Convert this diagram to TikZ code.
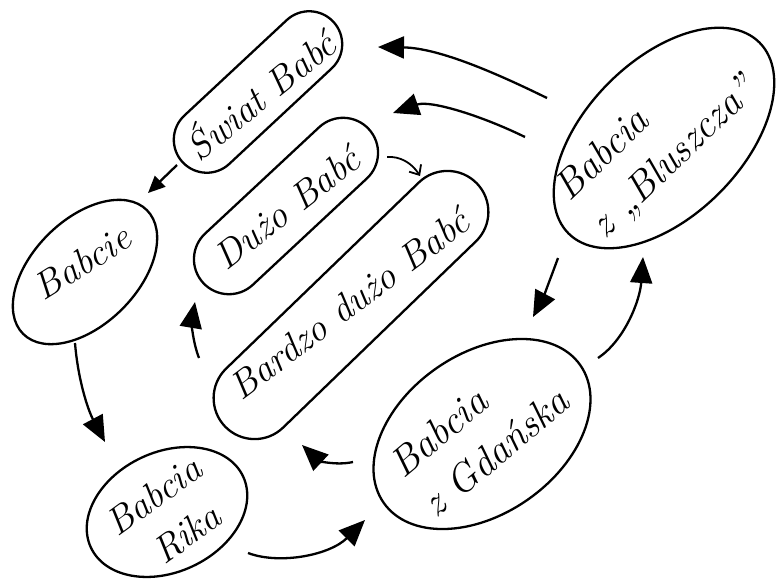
\documentclass[tikz,border=0pt]{standalone}
\usepackage{fontspec}
\usetikzlibrary{shapes.geometric,arrows.meta}
\begin{document}
\begin{tikzpicture}[x=1pt,y=-1pt,
  outline/.style={draw,line width=2.3pt,inner sep=0pt},
  stadium/.style={outline,rectangle,rounded corners=#1},
  oval/.style={outline,ellipse},
  hand/.style={font=\fontsize{38}{50}\selectfont\itshape,inner sep=0pt,align=left},
  bighand/.style={hand,font=\fontsize{40}{52}\selectfont\itshape},
  flow/.style={line width=2.3pt,-{Triangle[length=26pt,width=22pt]}},
  smallflow/.style={line width=2.3pt,-{Triangle[length=17pt,width=15pt]}},
  barbflow/.style={line width=1.8pt,-{Straight Barb[length=8pt,width=14pt]}}
]
\useasboundingbox (0,0) rectangle (777,579);

% outlines
\node[stadium=33pt,minimum width=206pt,minimum height=66pt,rotate=43] (swiat) at (258,92) {};
\node[stadium=35pt,minimum width=226pt,minimum height=70pt,rotate=43] (duzo) at (286,206) {};
\node[stadium=41pt,minimum width=350pt,minimum height=82pt,rotate=44] (bardzo) at (351,305) {};
\node[oval,minimum width=175pt,minimum height=105pt,rotate=45] (babcie) at (85,272) {};
\node[oval,minimum width=168pt,minimum height=120pt,rotate=25] (rika) at (167,512) {};
\node[oval,minimum width=240pt,minimum height=160pt,rotate=35] (gdansk) at (482,434) {};
\node[oval,minimum width=270pt,minimum height=156pt,rotate=45] (bluszcz) at (664,138) {};

% handwritten texts
\node[hand,rotate=39] (swiat-t) at (259,93) {Świat Babć};
\node[hand,rotate=38] (duzo-t) at (287,208) {Dużo Babć};
\node[hand,rotate=37] (bardzo-t) at (349,304) {Bardzo dużo Babć};
\node[hand,rotate=32] (babcie-t) at (82,262) {Babcie};
\node[hand,rotate=36] (rika-t) at (168,516) {Babcia\\\hspace*{22pt}Rika};
\node[bighand,rotate=40] (gdansk-t) at (479,432) {Babcia\\z Gdańska};
\node[bighand,rotate=44] (bluszcz-t) at (657,140) {Babcia\\z „Bluszcza”};

% arrow ends
\coordinate (a1s) at (547,98);   \coordinate (a1e) at (378,47);
\coordinate (a2s) at (525,137);  \coordinate (a2e) at (393,113);
\coordinate (a3s) at (387,157);  \coordinate (a3e) at (420,176);
\coordinate (a4s) at (177,165);  \coordinate (a4e) at (148,193);
\coordinate (a5s) at (75,343);   \coordinate (a5e) at (105,442);
\coordinate (a6s) at (248,553);  \coordinate (a6e) at (365,520);
\coordinate (a7s) at (353,462);  \coordinate (a7e) at (302,445);
\coordinate (a8s) at (199,358);  \coordinate (a8e) at (195,302);
\coordinate (a9s) at (598,358);  \coordinate (a9e) at (643,257);
\coordinate (a10s) at (558,258); \coordinate (a10e) at (533,317);

% arrows
\draw[flow] (a1s) .. controls (500,75) and (440,48) .. (a1e);
\draw[flow] (a2s) .. controls (480,115) and (430,100) .. (a2e);
\draw[barbflow] (a3s) .. controls (400,156) and (412,163) .. (a3e);
\draw[smallflow] (a4s) -- (a4e);
\draw[flow] (a5s) .. controls (78,380) and (88,410) .. (a5e);
\draw[flow] (a6s) .. controls (280,565) and (330,555) .. (a6e);
\draw[flow] (a7s) .. controls (335,466) and (318,460) .. (a7e);
\draw[flow] (a8s) .. controls (192,340) and (192,320) .. (a8e);
\draw[flow] (a9s) .. controls (625,340) and (640,300) .. (a9e);
\draw[flow] (a10s) .. controls (550,280) and (542,300) .. (a10e);
\end{tikzpicture}
\end{document}
